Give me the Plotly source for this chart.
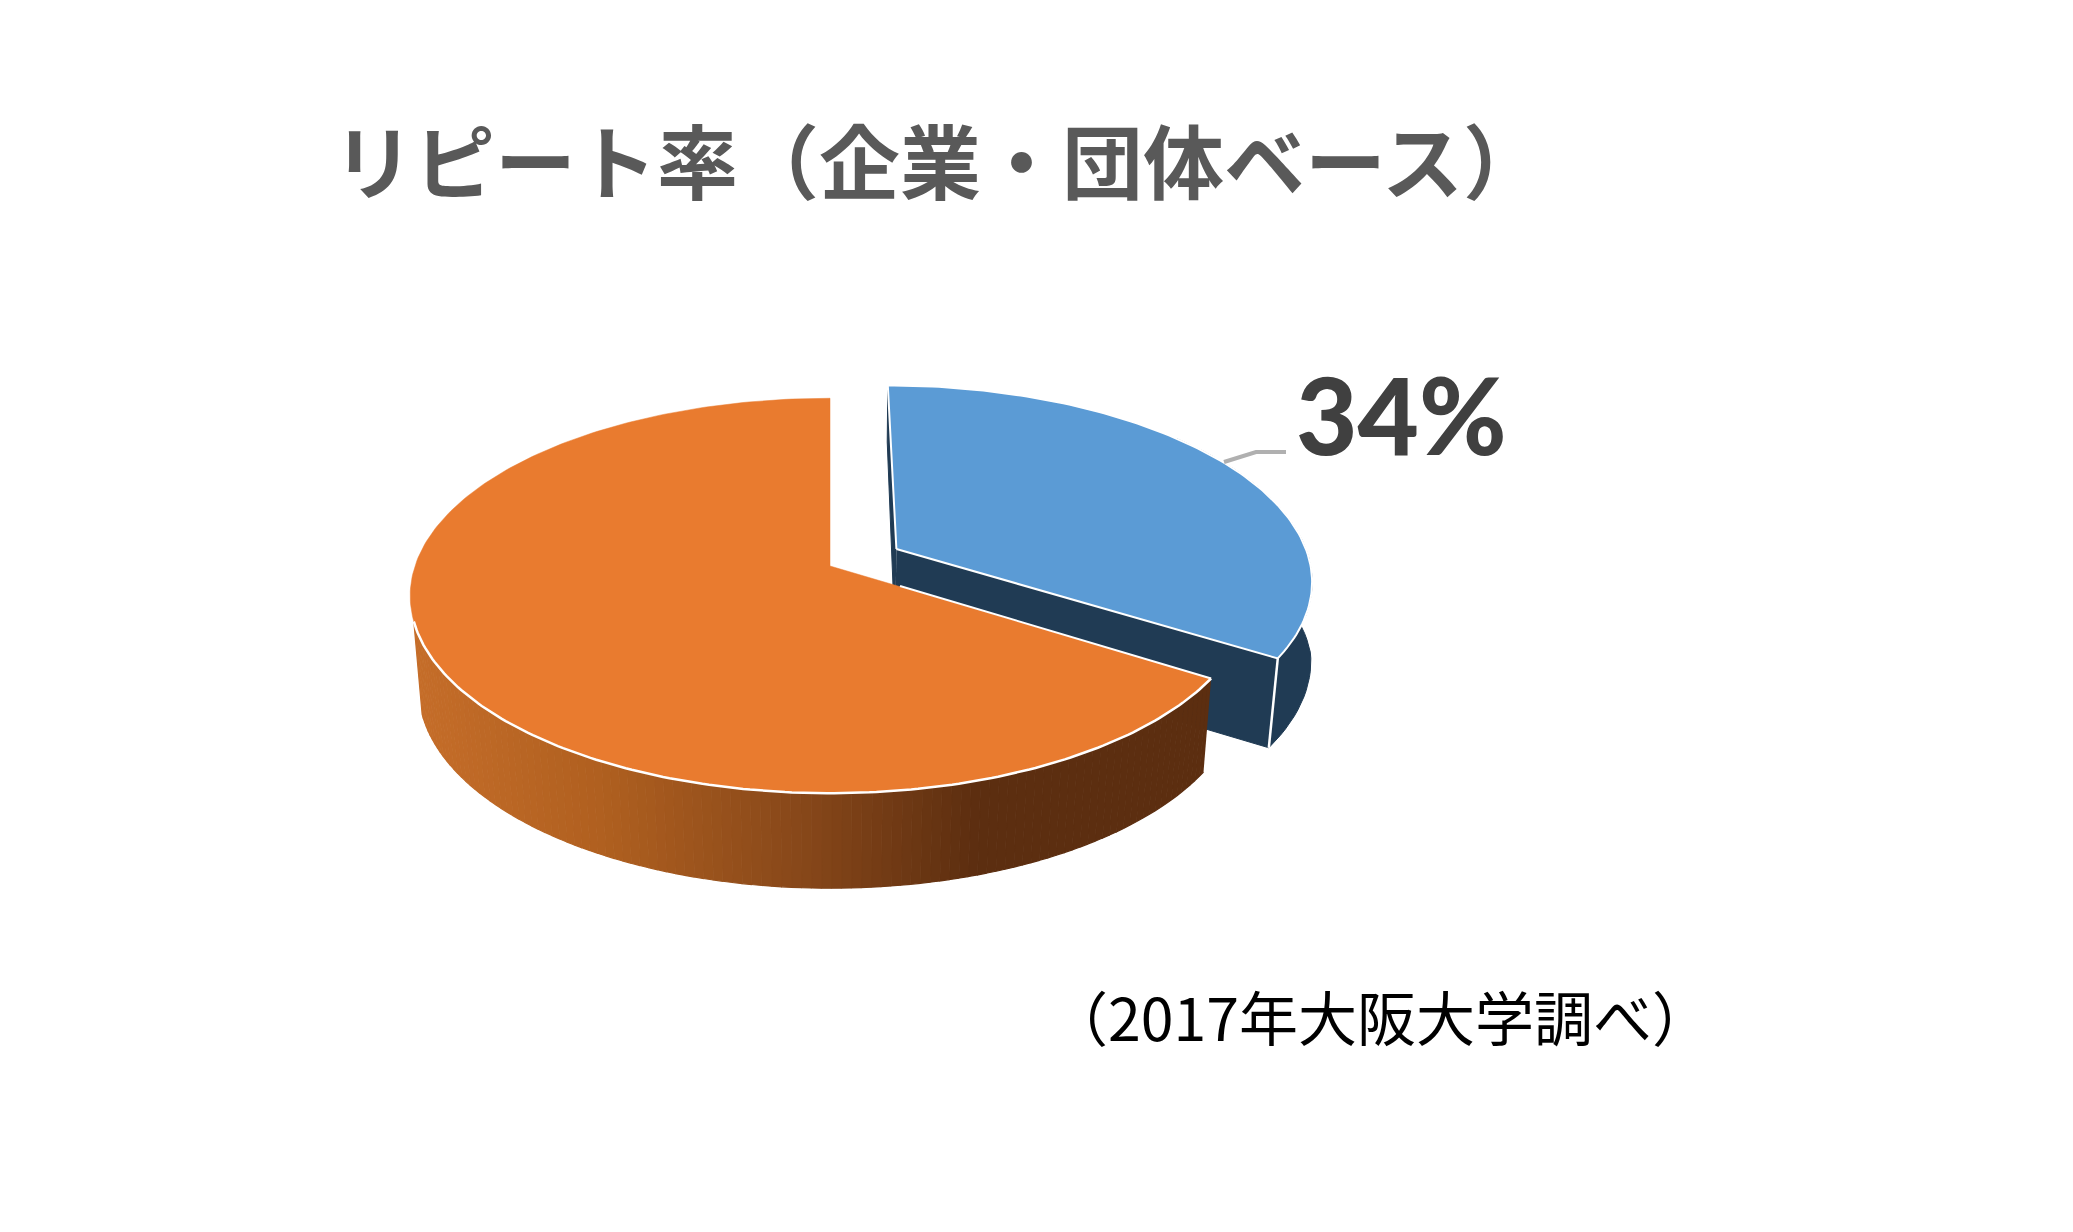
import numpy as np
import plotly.graph_objects as go

title_text = "リピート率（企業・団体ベース）"
source_text = "（2017年大阪大学調べ）"
slice_values = [34, 66]
slice_labels = ["34%", ""]
top_colors = ["#5B9BD5", "#E97B2F"]
wall_blue = "#203B54"
grad_x = [410, 600, 800, 980, 1220]
grad_r = [198, 176, 136, 92, 92]
grad_g = [110, 96, 72, 46, 46]
grad_b = [42, 32, 26, 16, 16]

CX, CY, A, B, K = 830.0, 566.0, 415.0, 193.0, 0.1505
EXPLODE = 0.185
SHRINK = 0.98
RIM_END = 254


def project(u, v):
    w = 1 + K * v
    return CX + A * u / w, CY - B * v / w


def bottom(u, v, shrink=SHRINK, h0=92):
    x, y = project(u, v)
    return CX + (x - CX) * shrink, y + h0 - 3 * v


def rim(t0, t1, n, off=(0.0, 0.0)):
    t = np.radians(np.linspace(t0, t1, n))
    return np.sin(t) + off[0], np.cos(t) + off[1]


fig = go.Figure()


def poly(xs, ys, color, line_color=None, width=1.0, name=""):
    fig.add_trace(go.Scatter(
        x=list(xs), y=list(ys), mode="lines", fill="toself", fillcolor=color,
        line=dict(color=line_color or color, width=width), hoverinfo="skip",
        showlegend=False, name=name))


def line(xs, ys, color="white", width=2.5):
    fig.add_trace(go.Scatter(x=list(xs), y=list(ys), mode="lines",
                             line=dict(color=color, width=width),
                             hoverinfo="skip", showlegend=False))


total = sum(slice_values)
blue_end = 360.0 * slice_values[0] / total
mid = np.radians(blue_end / 2)
off = (EXPLODE * np.sin(mid), EXPLODE * np.cos(mid))

ax, ay = project(off[0], off[1])
bx, by = bottom(off[0], off[1], h0=88)
# back cut face (thin sliver)
p0 = project(off[0], off[1] + 1)
p0b = bottom(off[0], off[1] + 1, shrink=0.99, h0=60)
poly([ax, p0[0], p0b[0], bx], [ay, p0[1], p0b[1], by], wall_blue)
line([p0b[0] - 2, bx - 2], [p0b[1], by], width=1.5)
# outer wall: the drop narrows in toward the tip
angles = np.linspace(50, blue_end, 40)
u, v = rim(50, blue_end, 40, off)
tx, ty = project(u, v)
drop_shrink = np.interp(angles, [50, 95, blue_end], [1.0, 1.0, SHRINK])
bbx, bby = bottom(u, v, shrink=drop_shrink, h0=88)
poly(list(tx) + list(bbx[::-1]), list(ty) + list(bby[::-1]), wall_blue)
# front cut face
e = np.radians(blue_end)
eu, ev = np.sin(e) + off[0], np.cos(e) + off[1]
ex, ey = project(eu, ev)
ebx, eby = bottom(eu, ev, h0=88)
poly([ax, ex, ebx, bx], [ay, ey, eby, by], wall_blue)
line([ex, ebx], [ey, eby], width=2.5)
# top
u, v = rim(0, blue_end, 120, off)
tx, ty = project(u, v)
poly([ax] + list(tx) + [ax], [ay] + list(ty) + [ay], top_colors[0], "#FFFFFF", 2)

# orange wall, strip by strip
edges = np.linspace(blue_end, RIM_END, 111)
for t0, t1 in zip(edges[:-1], edges[1:]):
    u, v = rim(t0, t1, 3)
    tx, ty = project(u, v)
    bbx, bby = bottom(u, v)
    xm = tx.mean()
    col = "rgb(%d,%d,%d)" % (np.interp(xm, grad_x, grad_r),
                             np.interp(xm, grad_x, grad_g),
                             np.interp(xm, grad_x, grad_b))
    poly(list(tx) + list(bbx[::-1]), list(ty) + list(bby[::-1]), col, col, 1.2)

# orange top
u, v = rim(blue_end, 360, 240)
tx, ty = project(u, v)
poly([CX] + list(tx) + [CX], [CY] + list(ty) + [CY], top_colors[1], top_colors[1], 0.5)
# rim highlight along the visible edge
u, v = rim(blue_end, RIM_END, 160)
tx, ty = project(u, v)
line(tx, ty, width=2.5)
line([CX + 70, tx[0]], [CY + 20, ty[0]], width=2)

# leader line
line([1224, 1256, 1286], [462, 452, 452], color="#B0B0B0", width=4)

fig.add_annotation(x=331, y=157, text=title_text, xanchor="left", yanchor="middle",
                   showarrow=False, font=dict(family="Noto Sans CJK JP", size=81,
                                              color="#595959", weight="bold"))
fig.add_annotation(x=1401, y=414, text=slice_labels[0], xanchor="center", yanchor="middle",
                   showarrow=False, font=dict(family="Lato", size=106,
                                              color="#404040", weight=900))
fig.add_annotation(x=1047, y=1015, text=source_text, xanchor="left", yanchor="middle",
                   showarrow=False, font=dict(family="Noto Sans CJK JP", size=59,
                                              color="#000000"))

# the page has an 8 px body margin: axes are in page pixels
fig.update_layout(
    width=2065, height=1224, margin=dict(l=0, r=0, t=0, b=0),
    paper_bgcolor="white", plot_bgcolor="white", showlegend=False,
    xaxis=dict(range=[8, 2073], visible=False, fixedrange=True),
    yaxis=dict(range=[1232, 8], visible=False, fixedrange=True),
)
fig.write_html("out.html", config=dict(displayModeBar=False))
